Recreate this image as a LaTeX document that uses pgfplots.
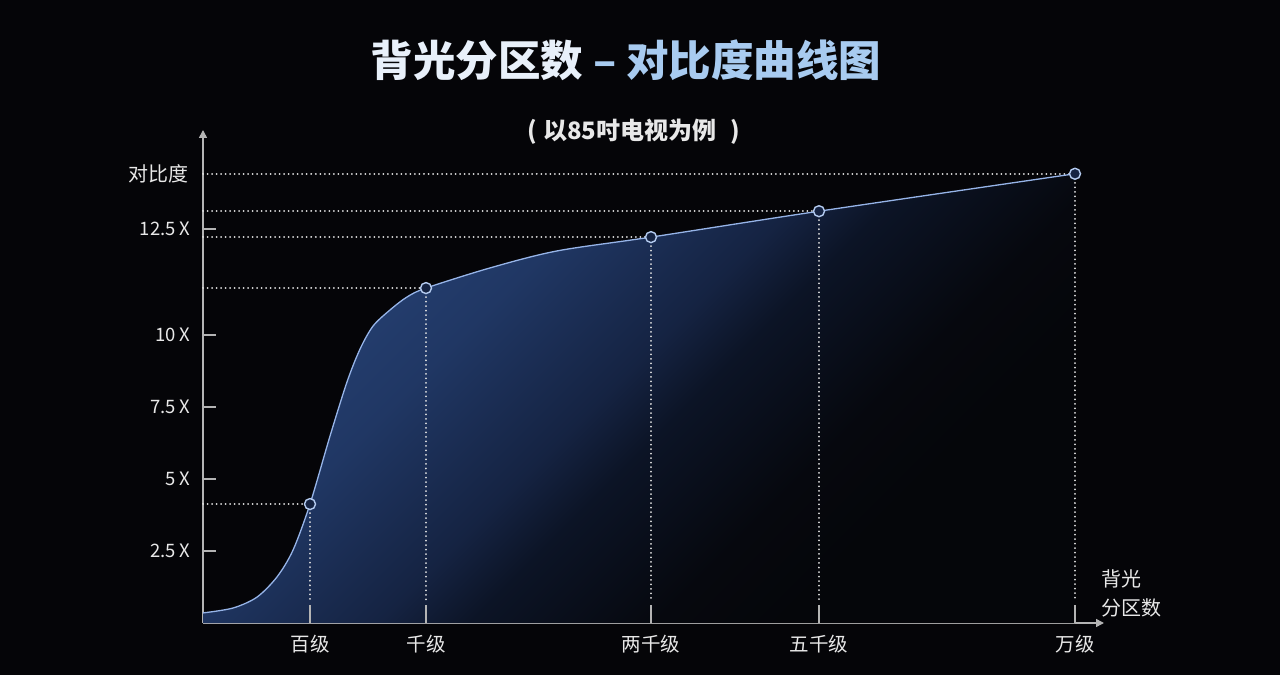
\documentclass[border=0pt]{standalone}
\usepackage{pgfplots}
\pgfplotsset{compat=1.18}
\usepackage{pgfplotstable}
\usepackage{fontspec}
\setmainfont{Noto Sans CJK SC}
\usetikzlibrary{arrows.meta}

\definecolor{bg}{RGB}{5,5,8}
\definecolor{g0}{RGB}{5,6,10}
\definecolor{g1}{RGB}{6,8,14}
\definecolor{g2}{RGB}{12,20,38}
\definecolor{g3}{RGB}{21,35,66}
\definecolor{g4}{RGB}{32,55,100}
\definecolor{g5}{RGB}{40,68,120}
\definecolor{g6}{RGB}{46,77,133}
\definecolor{curvecol}{RGB}{150,180,232}
\definecolor{ring}{RGB}{180,203,240}
\definecolor{dots}{RGB}{225,225,225}
\definecolor{axisgray}{RGB}{180,180,180}
\definecolor{txt}{RGB}{232,232,232}
\definecolor{t1}{RGB}{232,240,250}
\definecolor{t2}{RGB}{168,203,240}

% diagonal glow under the curve (used with shading angle=45)
\pgfdeclareverticalshading{glow}{100bp}{color(0bp)=(g0); color(30bp)=(g0);
  color(37bp)=(g1); color(47bp)=(g2); color(52bp)=(g3); color(63bp)=(g4);
  color(76bp)=(g5); color(83bp)=(g6); color(100bp)=(g6)}

% zones (x position) vs contrast
\pgfplotstableread{
x   y
0   0.35
30  0.52
54  0.90
74  1.60
90  2.53
107 4.13
127 6.49
144 8.37
157 9.51
170 10.31
187 10.87
204 11.32
223 11.63
287 12.33
354 12.92
448 13.40
616 14.30
872 15.60
}\curvedata

\newcommand{\lbl}{\fontsize{19.5}{29}\selectfont}

\begin{document}
\begin{tikzpicture}[x=1pt,y=1pt]
\fill[bg] (0,0) rectangle (1280,675);
\useasboundingbox (0,0) rectangle (1280,675);

\node[font=\fontsize{42.5}{46}\selectfont\bfseries] at (626,615)
  {\textcolor{t1}{背光分区数} \textcolor{t2}{– 对比度曲线图}};
\node[font=\fontsize{24}{26}\selectfont\bfseries, text=txt] at (634,543)
  {(\hspace{0.25em}以85吋电视为例\hspace{0.6em})};

\begin{axis}[
  at={(203pt,52pt)}, anchor=south west,
  scale only axis, width=901pt, height=493pt,
  xmin=0, xmax=901, ymin=0, ymax=17.12,
  axis lines=left,
  axis line style={axisgray, line width=1.5pt, -{Triangle[length=8pt,width=8pt]}},
  clip=false,
  xtick={107,223,448,616,872},
  xticklabels={百级,千级,两千级,五千级,万级},
  ytick={2.5,5,7.5,10,13.68},
  yticklabels={2.5 X,5 X,7.5 X,10 X,12.5 X},
  tick align=inside, major tick length=13pt,
  xtick style={draw=none},
  ytick style={axisgray, line width=1.5pt},
  xticklabel style={font=\lbl, text=txt, yshift=-9pt},
  yticklabel style={font=\fontsize{18.5}{20}\selectfont, text=txt, xshift=-9pt},
  xlabel={背光\\分区数}, ylabel={对比度},
  every axis x label/.style={at={(axis cs:901,0)}, anchor=south west,
    align=left, font=\fontsize{20}{29}\selectfont, text=txt, xshift=-6pt, yshift=2pt},
  every axis y label/.style={at={(axis cs:0,15.6)}, anchor=east,
    font=\fontsize{20}{22}\selectfont, text=txt, xshift=-11pt},
]
\addplot[draw=none, shade, shading=glow, shading angle=45, smooth, tension=0.5]
  table {\curvedata} \closedcycle;

% guide lines
\pgfplotsset{guide/.style={dots, line width=2pt, line cap=round, dash pattern=on 0.01pt off 4.5pt}}
\addplot[guide] coordinates {(0,4.13) (107,4.13)};
\addplot[guide] coordinates {(0,11.63) (223,11.63)};
\addplot[guide] coordinates {(0,13.40) (448,13.40)};
\addplot[guide] coordinates {(0,14.30) (616,14.30)};
\addplot[guide] coordinates {(0,15.60) (872,15.60)};
\addplot[guide] coordinates {(107,4.13) (107,0.75)};
\addplot[guide] coordinates {(223,11.63) (223,0.75)};
\addplot[guide] coordinates {(448,13.40) (448,0.75)};
\addplot[guide] coordinates {(616,14.30) (616,0.75)};
\addplot[guide] coordinates {(872,15.60) (872,0.75)};

% short ticks on the x axis
\addplot[axisgray, line width=1.5pt] coordinates {(107,0) (107,0.62)};
\addplot[axisgray, line width=1.5pt] coordinates {(223,0) (223,0.62)};
\addplot[axisgray, line width=1.5pt] coordinates {(448,0) (448,0.62)};
\addplot[axisgray, line width=1.5pt] coordinates {(616,0) (616,0.62)};
\addplot[axisgray, line width=1.5pt] coordinates {(872,0) (872,0.62)};

\addplot[curvecol, line width=1.3pt, smooth, tension=0.5] table {\curvedata};

\addplot[only marks, mark=*, mark size=5.5pt,
  mark options={draw=ring, fill=g3, line width=1.4pt}]
  coordinates {(107,4.13) (223,11.63) (448,13.40) (616,14.30) (872,15.60)};
\end{axis}
\end{tikzpicture}
\end{document}
